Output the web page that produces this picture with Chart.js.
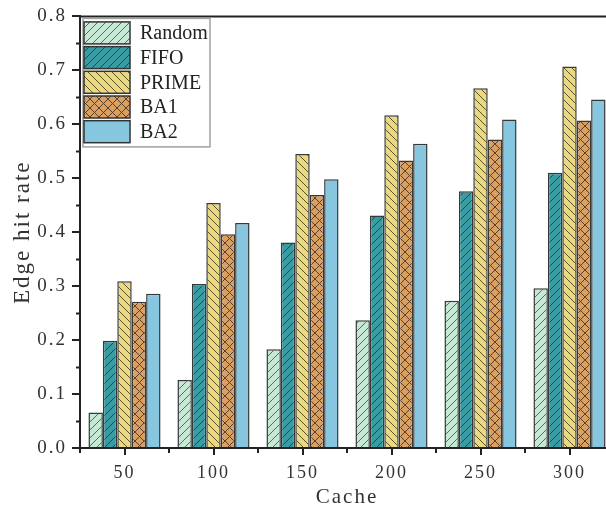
<!DOCTYPE html>
<html>
<head>
<meta charset="utf-8">
<script src="https://cdn.jsdelivr.net/npm/chart.js@4.4.0/dist/chart.umd.min.js"></script>
<style>
    html, body { margin: 0; padding: 0; background: #fff; overflow: hidden; }
    #wrap { width: 640px; height: 510px; }
</style>
</head>
<body>
<div id="wrap"><canvas id="chart" width="640" height="510"></canvas></div>
<script>
// ===== DATOS =====
const categories = ['50', '100', '150', '200', '250', '300'];
const seriesNames = ['Random', 'FIFO', 'PRIME', 'BA1', 'BA2'];
const randomRate = [0.066, 0.126, 0.183, 0.237, 0.273, 0.296];
const fifoRate = [0.199, 0.304, 0.381, 0.431, 0.476, 0.510];
const primeRate = [0.309, 0.454, 0.545, 0.617, 0.667, 0.707];
const ba1Rate = [0.271, 0.396, 0.469, 0.533, 0.572, 0.607];
const ba2Rate = [0.286, 0.417, 0.498, 0.564, 0.609, 0.646];
const yTickLabels = ['0.0', '0.1', '0.2', '0.3', '0.4', '0.5', '0.6', '0.7', '0.8'];

const canvas = document.getElementById('chart');
const ctx = canvas.getContext('2d');
const axisColor = '#222';
const textColor = '#333';
const serifFont = '"Liberation Serif", "DejaVu Serif", serif';

// ===== PATRONES DE RAYADO =====
function hatch(bg, kind, lineColor, size) {
    const s = size || 8;
    const c = document.createElement('canvas');
    c.width = s; c.height = s;
    const g = c.getContext('2d');
    g.fillStyle = bg;
    g.fillRect(0, 0, s, s);
    if (kind) {
        g.strokeStyle = lineColor;
        g.lineWidth = 1;
        g.beginPath();
        if (kind === '/' || kind === 'x') {
            g.moveTo(-1, s + 1); g.lineTo(s + 1, -1);
            g.moveTo(-1, 1); g.lineTo(1, -1);
            g.moveTo(s - 1, s + 1); g.lineTo(s + 1, s - 1);
        }
        if (kind === '\\' || kind === 'x') {
            g.moveTo(-1, -1); g.lineTo(s + 1, s + 1);
            g.moveTo(s - 1, -1); g.lineTo(s + 1, 1);
            g.moveTo(-1, s - 1); g.lineTo(1, s + 1);
        }
        g.stroke();
    }
    return ctx.createPattern(c, 'repeat');
}

const fills = [
    hatch('#c8e8d6', '/', '#5a6a62', 8),
    hatch('#3a9ca3', '/', '#1e4c50', 8),
    hatch('#ebd97f', '\\', '#5a5230', 8),
    hatch('#d9a062', 'x', '#5a4028', 9),
    hatch('#86c7df', null)
];
const seriesValues = [randomRate, fifoRate, primeRate, ba1Rate, ba2Rate];

// ===== ESPACIADO DE LETRAS PARA LOS EJES =====
const spacingPlugin = {
    id: 'spacing',
    beforeDraw(chart) { chart.ctx.letterSpacing = '2px'; },
    beforeDatasetsDraw(chart) { chart.ctx.letterSpacing = '0px'; }
};

// ===== MARCO Y MARCAS MENORES =====
const framePlugin = {
    id: 'frame',
    afterDraw(chart) {
        const { ctx, chartArea: a, scales: { x, y } } = chart;
        ctx.save();
        ctx.strokeStyle = axisColor;
        ctx.lineWidth = 2;
        ctx.beginPath();
        ctx.moveTo(a.left - 1, a.top);
        ctx.lineTo(a.right, a.top);
        ctx.lineTo(a.right, a.bottom);
        ctx.stroke();

        // marcas menores del eje Y
        ctx.beginPath();
        for (let i = 0; i < y.ticks.length - 1; i++) {
            const mid = (y.ticks[i].value + y.ticks[i + 1].value) / 2;
            const py = Math.round(y.getPixelForValue(mid)) + 0.5;
            ctx.moveTo(a.left - 4, py);
            ctx.lineTo(a.left, py);
        }
        // marcas menores del eje X (entre categorías)
        for (let i = 0; i <= categories.length; i++) {
            const p0 = x.getPixelForValue(Math.max(i - 1, 0));
            const p1 = x.getPixelForValue(Math.min(i, categories.length - 1));
            let px;
            if (i === 0) px = a.left;
            else if (i === categories.length) px = a.right;
            else px = (p0 + p1) / 2;
            px = Math.round(px);
            ctx.moveTo(px, a.bottom);
            ctx.lineTo(px, a.bottom + 5);
        }
        ctx.stroke();
        ctx.restore();
    }
};

// ===== LEYENDA DENTRO DEL ÁREA =====
const legendPlugin = {
    id: 'boxLegend',
    afterDraw(chart) {
        const { ctx, chartArea: a } = chart;
        const left = a.left + 3;
        const top = a.top + 2;
        const rowH = 24.7;
        const swW = 46, swH = 22;
        const w = 127;
        const h = chart.data.datasets.length * rowH + 5;
        ctx.save();
        ctx.fillStyle = '#fff';
        ctx.fillRect(left, top, w, h);
        ctx.strokeStyle = '#a0a0a0';
        ctx.lineWidth = 1.5;
        ctx.strokeRect(left, top, w, h);
        chart.data.datasets.forEach((ds, i) => {
            const sy = top + 3.5 + i * rowH;
            ctx.fillStyle = ds.backgroundColor;
            ctx.fillRect(left + 1, sy, swW, swH);
            ctx.strokeStyle = '#333';
            ctx.lineWidth = 1.5;
            ctx.strokeRect(left + 1, sy, swW, swH);
            ctx.fillStyle = '#222';
            ctx.font = '20px ' + serifFont;
            ctx.textBaseline = 'middle';
            ctx.fillText(ds.label, left + 57, sy + swH / 2 + 1);
        });
        ctx.restore();
    }
};

// ===== GRÁFICO =====
new Chart(ctx, {
    type: 'bar',
    data: {
        labels: categories,
        datasets: seriesNames.map((name, i) => ({
            label: name,
            data: seriesValues[i],
            backgroundColor: fills[i],
            borderColor: '#383838',
            borderWidth: 1.5,
            categoryPercentage: 0.81,
            barPercentage: 1
        }))
    },
    options: {
        responsive: false,
        animation: false,
        devicePixelRatio: 1,
        layout: { padding: { top: 16, right: 26, left: 0, bottom: 0 } },
        plugins: { legend: { display: false }, tooltip: { enabled: false } },
        scales: {
            x: {
                offset: true,
                border: { color: axisColor, width: 2 },
                grid: { display: true, drawOnChartArea: false, drawTicks: true, tickLength: 7, offset: false, color: axisColor, lineWidth: 2 },
                ticks: { color: textColor, font: { family: serifFont, size: 18 }, padding: 7, maxRotation: 0 },
                title: { display: true, text: 'Cache', color: textColor, font: { family: serifFont, size: 21 }, padding: { top: 0, bottom: 0 } },
                afterFit: s => { s.height = 62; }
            },
            y: {
                min: 0,
                max: 0.8,
                border: { color: axisColor, width: 2 },
                grid: { display: true, drawOnChartArea: false, drawTicks: true, tickLength: 8, color: axisColor, lineWidth: 2 },
                ticks: {
                    stepSize: 0.1,
                    color: textColor,
                    font: { family: serifFont, size: 19 },
                    padding: 5,
                    callback: (v, i) => yTickLabels[i]
                },
                title: { display: true, text: 'Edge hit rate', color: textColor, font: { family: serifFont, size: 23 }, padding: { top: 9, bottom: 0 } },
                afterFit: s => { s.width = 80; }
            }
        }
    },
    plugins: [spacingPlugin, framePlugin, legendPlugin]
});
</script>
</body>
</html>
